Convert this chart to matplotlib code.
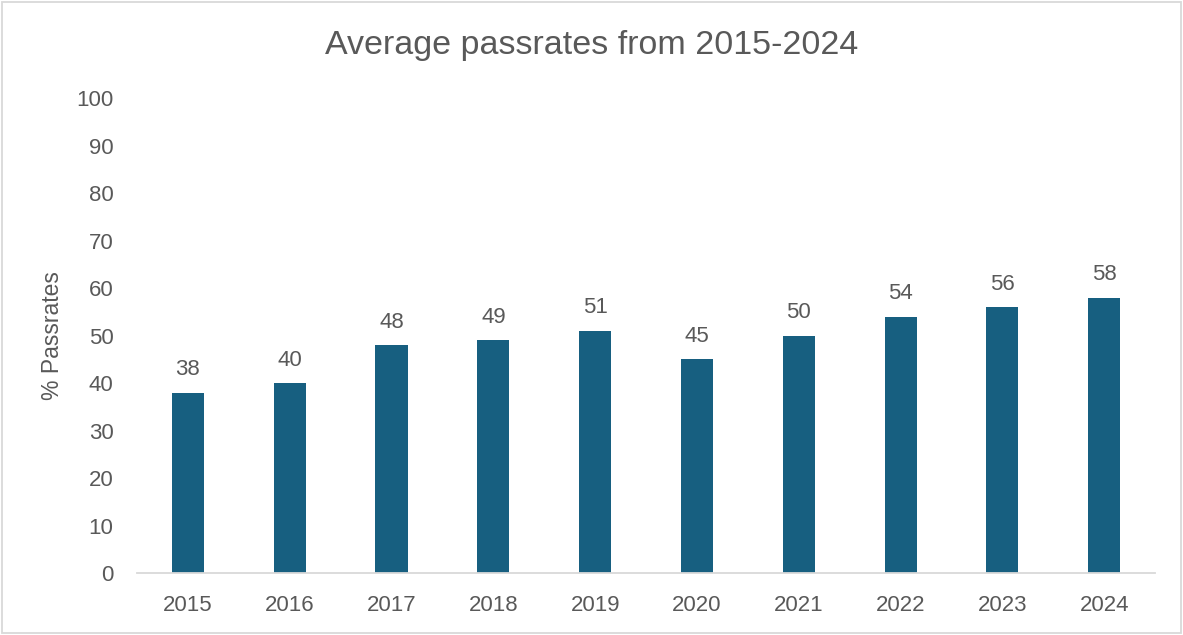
import matplotlib.pyplot as plt
from matplotlib.patches import Rectangle

# chart data
years = ['2015', '2016', '2017', '2018', '2019', '2020', '2021', '2022', '2023', '2024']
passrates = [38, 40, 48, 49, 51, 45, 50, 54, 56, 58]
y_ticks = [0, 10, 20, 30, 40, 50, 60, 70, 80, 90, 100]

plt.rcParams['font.family'] = ['Liberation Sans', 'DejaVu Sans']
text_color = '#595959'
bar_color = '#175F80'

fig = plt.figure(figsize=(11.83, 6.35), dpi=100)
ax = fig.add_axes([0.1158, 0.0976, 0.8606, 0.748])

x = list(range(len(years)))
bars = ax.bar(x, passrates, width=0.315, color=bar_color)
ax.bar_label(bars, labels=[str(v) for v in passrates], padding=9,
             fontsize=16, color=text_color)

ax.set_xlim(-0.5, len(years) - 0.5)
ax.set_ylim(0, 100)
ax.set_yticks(y_ticks)
ax.set_xticks(x)
ax.set_xticklabels(years)
ax.tick_params(axis='both', length=0, labelsize=16, labelcolor=text_color)
ax.tick_params(axis='y', pad=17)
ax.tick_params(axis='x', pad=16)

for side in ['top', 'right', 'left']:
    ax.spines[side].set_visible(False)
ax.spines['bottom'].set_color('#d9d9d9')
ax.spines['bottom'].set_linewidth(1.3)

ax.set_ylabel('% Passrates', fontsize=16.5, color=text_color, labelpad=9)
fig.text(0.5, 0.928, 'Average passrates from 2015-2024', ha='center', va='center',
         fontsize=24.5, color=text_color)

# light frame around the chart
fig.patches.append(Rectangle((0.002, 0.003), 0.996, 0.994, transform=fig.transFigure,
                             fill=False, edgecolor='#d9d9d9', linewidth=1.3))

plt.savefig('out.png', dpi=100)
